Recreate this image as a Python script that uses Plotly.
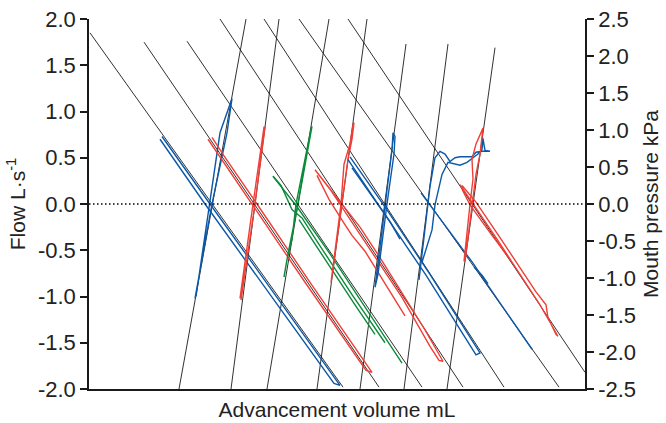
import plotly.graph_objects as go

# ---------------- axes / ticks ----------------
vol_range = [0, 49.6]
flow_range = [-2.0, 2.0]
pres_range = [-2.5, 2.5]
flow_ticks = [-2.0, -1.5, -1.0, -0.5, 0.0, 0.5, 1.0, 1.5, 2.0]
flow_labels = ["-2.0", "-1.5", "-1.0", "-0.5", "0.0", "0.5", "1.0", "1.5", "2.0"]
pres_ticks = [-2.5, -2.0, -1.5, -1.0, -0.5, 0.0, 0.5, 1.0, 1.5, 2.0, 2.5]
pres_labels = ["-2.5", "-2.0", "-1.5", "-1.0", "-0.5", "0.0", "0.5", "1.0", "1.5", "2.0", "2.5"]

# ---------------- black reference lines ----------------
# negative-slope (flow) isopleths: [start, end]
neg_line_vol = [[0.1, 25.4], [5.5, 29.0], [9.8, 33.3], [13.1, 37.4],
                [17.5, 41.5], [21.0, 47.0], [25.9, 49.6]]
neg_line_flow = [[1.85, -1.98], [1.75, -1.98], [1.76, -1.98], [2.0, -1.98],
                 [2.0, -1.98], [2.0, -1.98], [2.0, -1.82]]
# steep (pressure) isopleths
steep_line_vol = [[9.0, 15.7], [14.2, 19.0], [17.8, 24.0], [22.8, 27.8],
                  [27.1, 31.7], [31.5, 35.9], [35.8, 40.6]]
steep_line_flow = [[-2.0, 2.0], [-2.0, 2.0], [-2.0, 2.0], [-2.0, 2.0],
                   [-2.0, 1.73], [-2.0, 1.73], [-2.0, 1.69]]

# ---------------- measured loops ----------------
# group 1 (blue)
g1_flow_vol = [7.3, 12.1, 25.1, 24.5, 11.6, 7.1]
g1_flow_val = [0.73, 0.0, -1.96, -1.94, 0.0, 0.70]
g1_pres_vol = [10.6, 12.3, 13.8, 14.3, 13.1, 12.1, 10.7]
g1_pres_val = [-1.02, 0.0, 0.77, 1.14, 0.77, 0.05, -1.00]
# group 2 (red)
g2_flow_vol = [12.3, 13.5, 16.8, 22.0, 28.3, 27.7, 21.5, 16.3, 13.0, 11.9]
g2_flow_val = [0.72, 0.52, 0.0, -0.83, -1.82, -1.80, -0.83, 0.0, 0.52, 0.70]
g2_pres_vol = [15.2, 16.6, 17.6, 17.5, 16.4, 15.1]
g2_pres_val = [-1.04, 0.0, 0.83, 0.83, 0.0, -1.02]
# group 3 (green)
g3_flow_vol = [18.4, 19.6, 20.8, 24.1, 28.1, 31.3, None,
               29.6, 26.3, 22.9, 21.3, 20.3, 19.8, 19.2, 18.4, None,
               21.0, 23.7, 26.6, 28.6]
g3_flow_val = [0.30, 0.135, -0.03, -0.54, -1.20, -1.72, None,
               -1.50, -0.98, -0.42, -0.15, -0.06, 0.05, 0.20, 0.30, None,
               -0.17, -0.62, -1.09, -1.41]
g3_pres_vol = [19.5, 19.9, 20.9, 22.3, 22.2, 20.7, 20.3, 19.8, 19.5]
g3_pres_val = [-0.79, -0.54, 0.0, 0.84, 0.81, 0.0, -0.38, -0.60, -0.79]
# group 4 (red)
g4_flow_vol = [22.6, 25.3, 27.1, 29.1, 32.1, 33.6, 35.4,
               35.0, 34.1, 32.7, 31.3, 28.4, 26.0, 24.1, 22.6, None,
               22.8, 24.0, 25.4, 26.3, 27.6, 30.3, 31.6]
g4_flow_val = [0.37, 0.0, -0.25, -0.58, -1.09, -1.36, -1.70,
               -1.69, -1.54, -1.27, -1.01, -0.54, -0.15, 0.16, 0.37, None,
               0.31, 0.05, -0.19, -0.34, -0.51, -0.98, -1.21]
g4_pres_vol = [24.2, 25.3, 25.9, 26.3, 26.5, 26.4, 26.1, 25.5, 25.2, 24.2]
g4_pres_val = [-0.85, 0.0, 0.48, 0.70, 0.88, 0.86, 0.65, 0.43, 0.0, -0.85]
# group 5 (blue)
g5_flow_vol = [26.1, 29.6, 34.1, 39.1, 38.7, 33.7, 29.2, 25.9, None,
               26.3, 28.3, 30.1, 31.1]
g5_flow_val = [0.51, -0.03, -0.76, -1.61, -1.63, -0.77, -0.05, 0.48, None,
               0.39, 0.08, -0.19, -0.38]
g5_pres_vol = [28.6, 29.6, 30.3, 30.4, 30.6, 30.5, 29.8, 28.9, 28.6]
g5_pres_val = [-0.90, 0.0, 0.59, 0.77, 0.73, 0.54, 0.0, -0.76, -0.90]
# group 6 (blue)
g6_flow_vol = [33.2, 38.4, 39.7, 44.3, None, 39.9, 39.3, 38.5]
g6_flow_val = [0.12, -0.64, -0.85, -1.57, None, -0.86, -0.77, -0.68]
g6_pres_vol = [33.0, 33.6, 34.1, 34.6, 35.1, 35.6, 36.1, 36.6, 37.1, 37.8, 38.3,
               38.7, 39.3, 40.1, 39.6, 39.5, 39.4, 39.3, 38.9, 38.4, 37.8, 37.1,
               36.6, 35.9, 35.3, 34.6, 34.3, 33.3]
g6_pres_val = [-0.82, -0.28, 0.19, 0.50, 0.57, 0.54, 0.46, 0.50, 0.51, 0.51, 0.51,
               0.56, 0.57, 0.57, 0.58, 0.64, 0.71, 0.59, 0.54, 0.50, 0.45, 0.42,
               0.43, 0.45, 0.32, -0.01, -0.28, -0.63]
# group 7 (red)
g7_flow_vol = [37.1, 38.3, 40.8, 45.1, 46.9, 46.7, 45.9, 45.7, 44.7, 41.2, 38.7, 37.3,
               None, 37.3, 38.1, 40.1, 42.1]
g7_flow_val = [0.21, 0.02, -0.38, -1.09, -1.43, -1.41, -1.23, -1.09, -0.95, -0.38, 0.02, 0.20,
               None, 0.16, -0.01, -0.31, -0.60]
g7_pres_vol = [37.6, 38.3, 38.7, 39.1, 39.4, 38.7, 38.3, 38.4, 38.1, 37.5]
g7_pres_val = [-0.62, 0.0, 0.32, 0.54, 0.82, 0.65, 0.48, 0.27, 0.0, -0.62]

BLUE = "#0b58a8"
RED = "#ef3e36"
GREEN = "#0b8a3a"
BLACK = "#1a1a1a"

groups = [
    (g1_flow_vol, g1_flow_val, g1_pres_vol, g1_pres_val, BLUE),
    (g2_flow_vol, g2_flow_val, g2_pres_vol, g2_pres_val, RED),
    (g3_flow_vol, g3_flow_val, g3_pres_vol, g3_pres_val, GREEN),
    (g4_flow_vol, g4_flow_val, g4_pres_vol, g4_pres_val, RED),
    (g5_flow_vol, g5_flow_val, g5_pres_vol, g5_pres_val, BLUE),
    (g6_flow_vol, g6_flow_val, g6_pres_vol, g6_pres_val, BLUE),
    (g7_flow_vol, g7_flow_val, g7_pres_vol, g7_pres_val, RED),
]

fig = go.Figure()

# zero line (on pressure axis so that axis is drawn)
fig.add_trace(go.Scatter(x=vol_range, y=[0, 0], mode="lines", yaxis="y2",
                         line=dict(color="#000000", width=1.3, dash="1.5px,2.5px"),
                         hoverinfo="skip", showlegend=False))

for xs, ys in zip(neg_line_vol + steep_line_vol, neg_line_flow + steep_line_flow):
    fig.add_trace(go.Scatter(x=xs, y=ys, mode="lines",
                             line=dict(color=BLACK, width=0.9),
                             hoverinfo="skip", showlegend=False))

for fv, ff, pv, pf, col in groups:
    fig.add_trace(go.Scatter(x=fv, y=ff, mode="lines", connectgaps=False,
                             line=dict(color=col, width=1.4),
                             showlegend=False))
    fig.add_trace(go.Scatter(x=pv, y=pf, mode="lines",
                             line=dict(color=col, width=1.4),
                             showlegend=False))

FONT = "Liberation Sans, Arial, sans-serif"
axis_common = dict(showgrid=False, zeroline=False, showline=True, automargin=False,
                   linecolor=BLACK, linewidth=1.5, ticks="outside",
                   ticklen=7, tickwidth=1.5, tickcolor=BLACK,
                   tickfont=dict(size=22, color="#222"))

fig.update_layout(
    width=666, height=423,
    margin=dict(l=89, r=81, t=19, b=34, autoexpand=False),
    paper_bgcolor="white", plot_bgcolor="white",
    font=dict(family=FONT, color="#222"),
    hovermode=False,
    xaxis=dict(range=vol_range, showgrid=False, zeroline=False, showline=True,
               automargin=False,
               linecolor=BLACK, linewidth=1.5, ticks="", showticklabels=False,
               title=dict(text="Advancement volume mL", font=dict(size=21), standoff=13)),
    yaxis=dict(range=flow_range, tickvals=flow_ticks, ticktext=flow_labels,
               title=dict(text="Flow L·s<sup>-1</sup>", font=dict(size=21), standoff=7),
               **axis_common),
    yaxis2=dict(range=pres_range, tickvals=pres_ticks, ticktext=pres_labels,
                overlaying="y", side="right",
                title=dict(text="Mouth pressure kPa", font=dict(size=21), standoff=8),
                **axis_common),
)

fig.write_html("out.html", config={"displayModeBar": False},
               post_script="document.body.style.margin='0';document.body.style.padding='0';")
